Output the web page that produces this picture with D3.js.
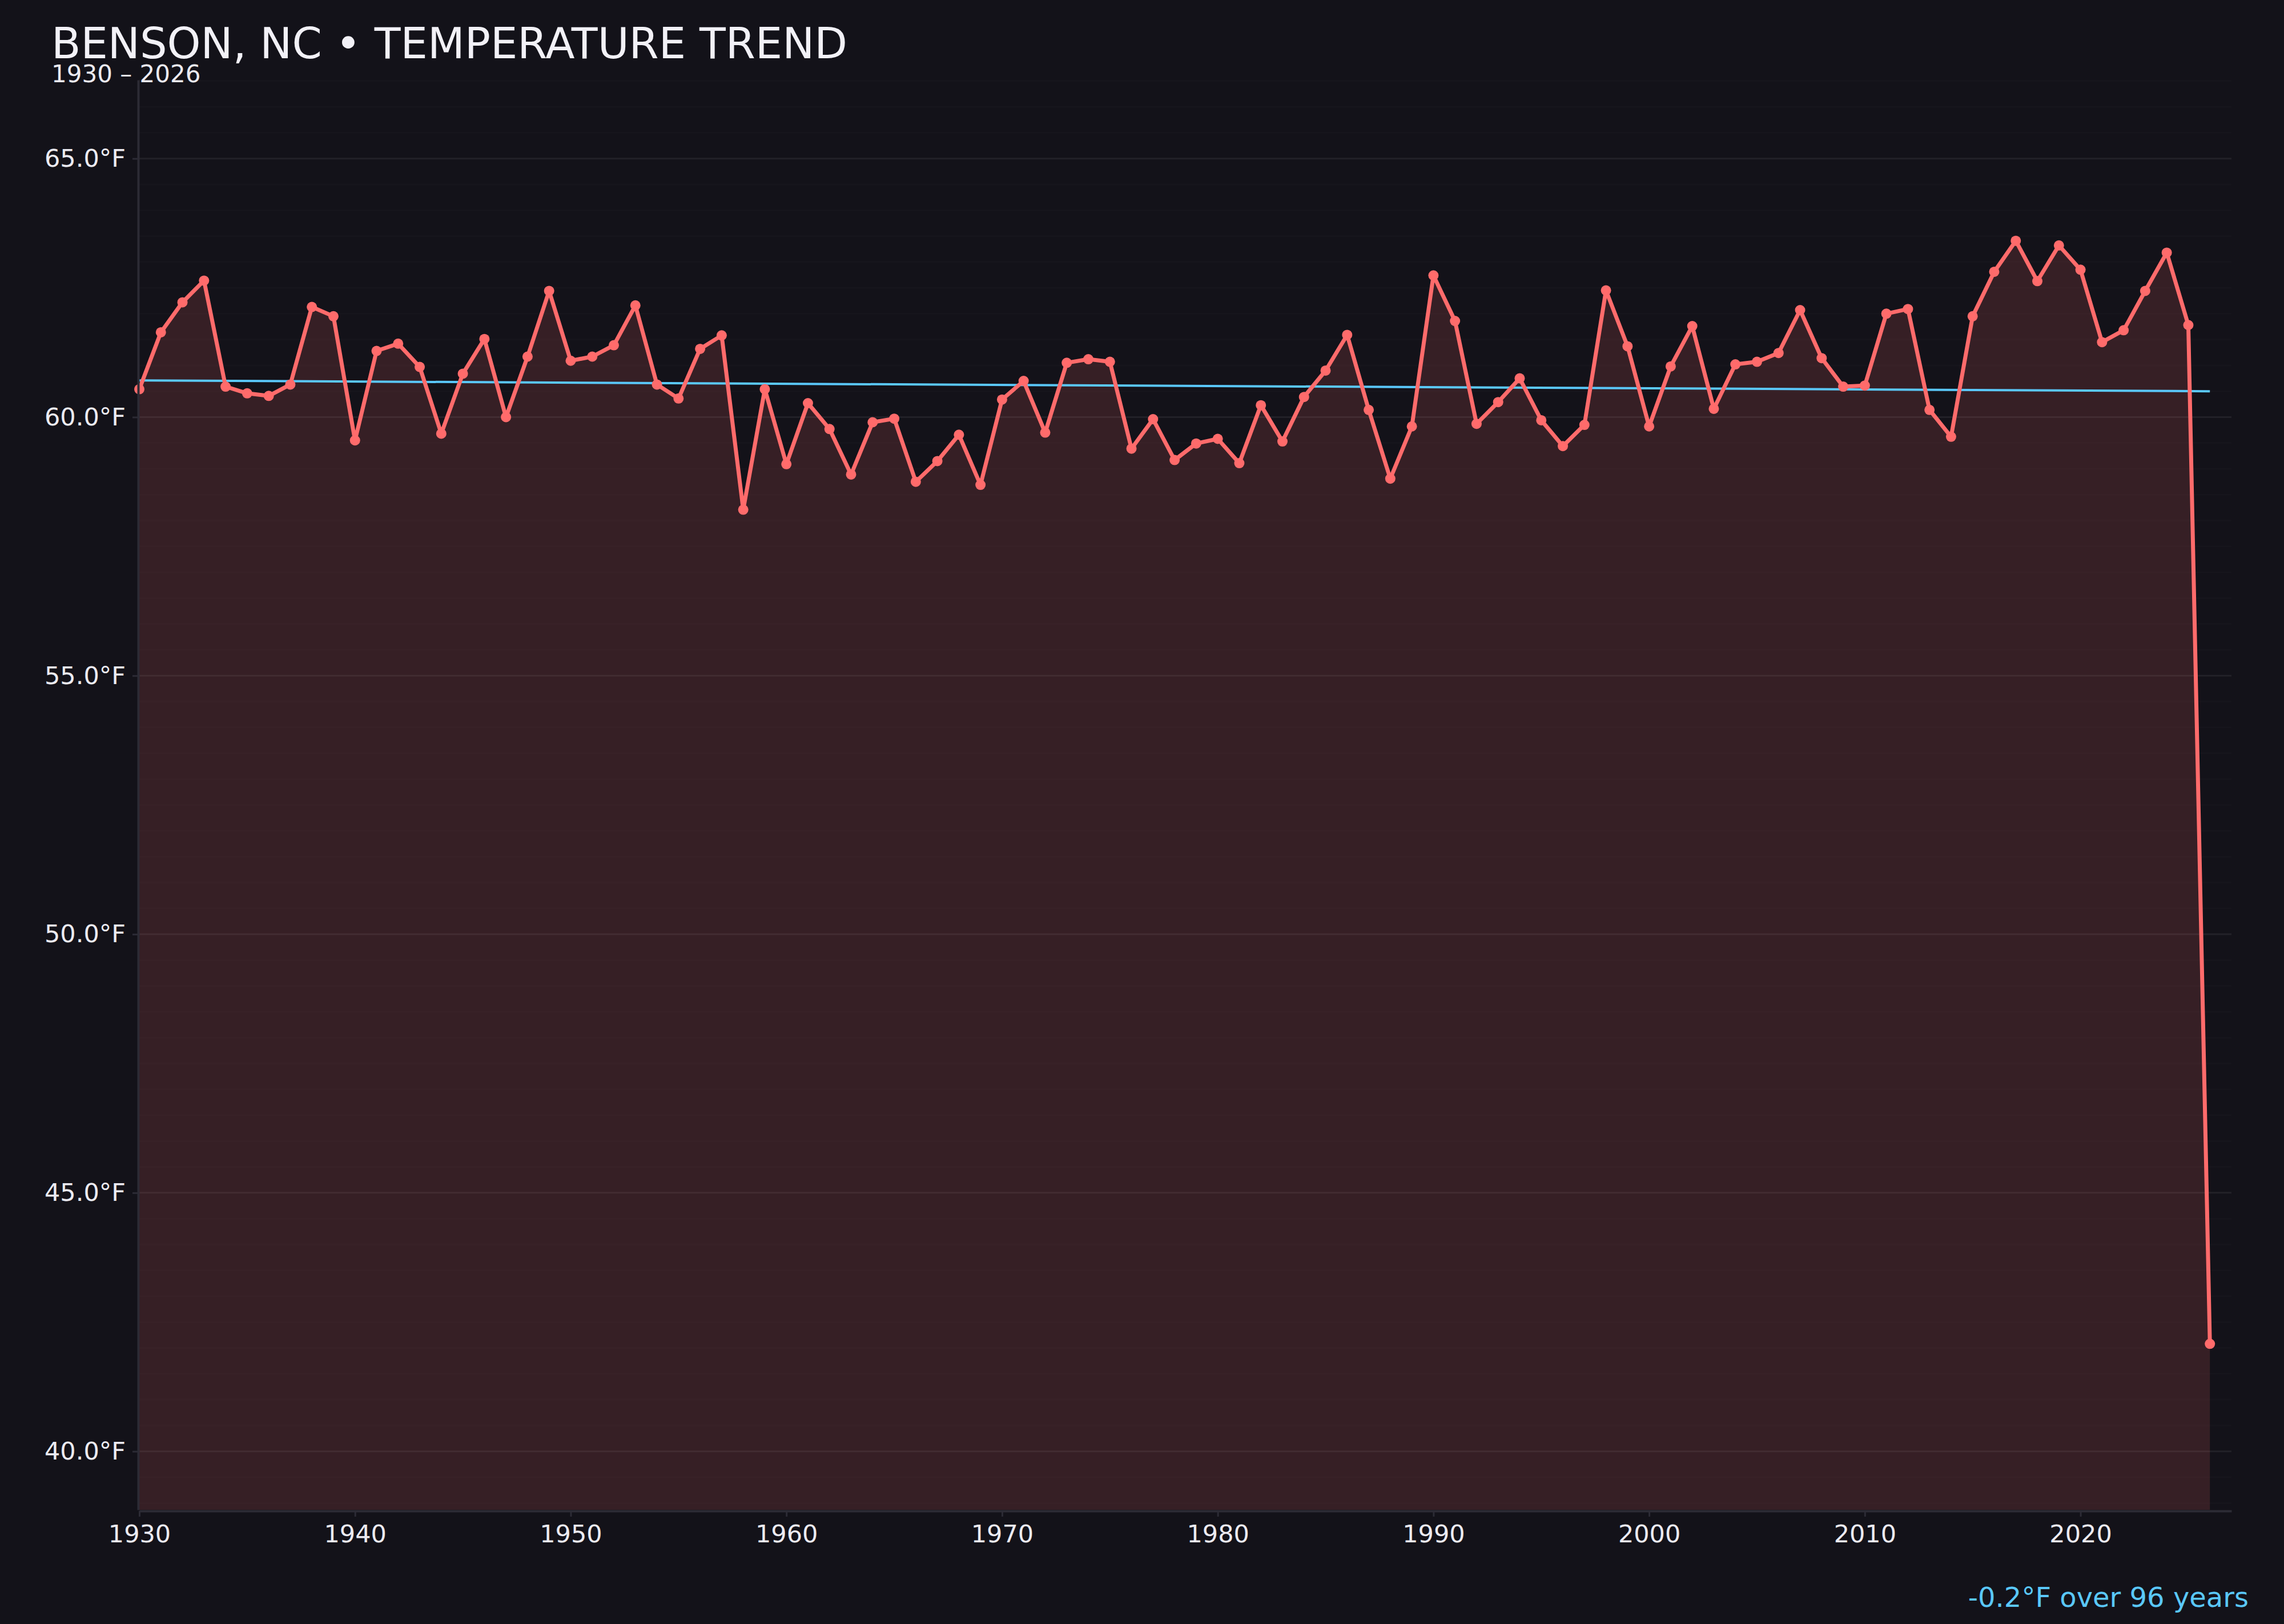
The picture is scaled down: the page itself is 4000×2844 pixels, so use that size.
<!DOCTYPE html>
<html>
<head>
<meta charset="utf-8">
<script src="https://cdn.jsdelivr.net/npm/d3@7"></script>
<style>
  html, body { margin: 0; padding: 0; background: #131219; }
  svg { display: block; font-family: "DejaVu Sans", sans-serif; }
</style>
</head>
<body>
<div id="chart"></div>
<script>
const years = d3.range(1930, 2027);

const temps = [
  60.54, 61.64, 62.22, 62.64, 60.59, 60.46, 60.41, 60.63, 62.13, 61.95,
  59.55, 61.28, 61.42, 60.97, 59.68, 60.84, 61.51, 60.00, 61.17, 62.44,
  61.09, 61.17, 61.39, 62.16, 60.63, 60.36, 61.32, 61.58, 58.21, 60.54,
  59.09, 60.27, 59.77, 58.89, 59.90, 59.97, 58.75, 59.15, 59.66, 58.69,
  60.34, 60.70, 59.70, 61.05, 61.12, 61.07, 59.39, 59.96, 59.17, 59.49,
  59.58, 59.11, 60.23, 59.53, 60.39, 60.90, 61.59, 60.14, 58.81, 59.82,
  62.74, 61.86, 59.87, 60.29, 60.75, 59.94, 59.44, 59.85, 62.45, 61.37,
  59.82, 60.98, 61.76, 60.16, 61.02, 61.07, 61.24, 62.07, 61.14, 60.59,
  60.61, 62.00, 62.09, 60.14, 59.62, 61.95, 62.81, 63.41, 62.63, 63.32,
  62.85, 61.45, 61.68, 62.44, 63.18, 61.78, 42.08
];

// trend line end values
const trendYears = [1930, 2026];
const trendTemps = [60.71, 60.50];

const xTickYears = d3.range(1930, 2021, 10);
const yTickTemps = [40, 45, 50, 55, 60, 65];

const title = "BENSON, NC \u2022 TEMPERATURE TREND";
const subtitle = "1930 \u2013 2026";
const trendLabel = "-0.2\u00b0F over 96 years";

const width = 4000, height = 2844;
const margin = {top: 140, right: 92, bottom: 200, left: 244};
const innerW = width - margin.left - margin.right;
const innerH = height - margin.top - margin.bottom;

const data = years.map((y, i) => ({year: y, temp: temps[i]}));
const trend = trendYears.map((y, i) => ({year: y, temp: trendTemps[i]}));

const x = d3.scaleLinear().domain([1930, 2027]).range([0, innerW]);
const y = d3.scaleLinear().domain([38.87, 66.52]).range([innerH, 0]);

const svg = d3.select("#chart").append("svg")
  .attr("width", width)
  .attr("height", height);

svg.append("rect")
  .attr("width", width)
  .attr("height", height)
  .attr("fill", "#131219");

const g = svg.append("g")
  .attr("transform", `translate(${margin.left},${margin.top})`);

// minor grid every half degree
g.append("g")
  .selectAll("line")
  .data(y.ticks(60))
  .join("line")
  .attr("x1", 0)
  .attr("x2", innerW)
  .attr("y1", d => y(d))
  .attr("y2", d => y(d))
  .attr("stroke", "#ffffff")
  .attr("stroke-opacity", 0.015)
  .attr("stroke-width", 3);

// major grid
g.append("g")
  .selectAll("line")
  .data(yTickTemps)
  .join("line")
  .attr("x1", 0)
  .attr("x2", innerW)
  .attr("y1", d => y(d))
  .attr("y2", d => y(d))
  .attr("stroke", "#ffffff")
  .attr("stroke-opacity", 0.055)
  .attr("stroke-width", 3);

const area = d3.area()
  .x(d => x(d.year))
  .y0(innerH)
  .y1(d => y(d.temp));

g.append("path")
  .datum(data)
  .attr("fill", "#ff6b6b")
  .attr("fill-opacity", 0.15)
  .attr("d", area);

const line = d3.line()
  .x(d => x(d.year))
  .y(d => y(d.temp));

g.append("path")
  .datum(trend)
  .attr("fill", "none")
  .attr("stroke", "#5ac8fa")
  .attr("stroke-width", 4)
  .attr("d", line);

g.append("path")
  .datum(data)
  .attr("fill", "none")
  .attr("stroke", "#ff6b6b")
  .attr("stroke-width", 7)
  .attr("stroke-linejoin", "round")
  .attr("d", line);

g.append("g")
  .selectAll("circle")
  .data(data)
  .join("circle")
  .attr("cx", d => x(d.year))
  .attr("cy", d => y(d.temp))
  .attr("r", 9)
  .attr("fill", "#ff6b6b");

// axes
const xAxis = g.append("g")
  .attr("transform", `translate(0,${innerH + 2})`)
  .call(d3.axisBottom(x).tickValues(xTickYears).tickFormat(d3.format("d"))
    .tickSize(10).tickSizeOuter(0).tickPadding(14));

const yAxis = g.append("g")
  .attr("transform", "translate(-2,0)")
  .call(d3.axisLeft(y).tickValues(yTickTemps).tickFormat(d => d.toFixed(1) + "\u00b0F")
    .tickSize(10).tickSizeOuter(0).tickPadding(12));

[xAxis, yAxis].forEach(a => {
  a.select(".domain").attr("stroke", "#2c2b35").attr("stroke-width", 4);
  a.selectAll(".tick line").attr("stroke", "#2c2b35").attr("stroke-width", 3);
  a.selectAll(".tick text")
    .attr("fill", "#ecebf2")
    .style("font-family", "'DejaVu Sans', sans-serif")
    .style("font-size", "43px");
});

svg.append("text")
  .attr("x", 90)
  .attr("y", 102)
  .attr("fill", "#f2f1f7")
  .style("font-size", "75px")
  .text(title);

svg.append("text")
  .attr("x", 90)
  .attr("y", 144)
  .attr("fill", "#ecebf2")
  .style("font-size", "42px")
  .text(subtitle);

svg.append("text")
  .attr("x", 3938)
  .attr("y", 2814)
  .attr("text-anchor", "end")
  .attr("fill", "#5ac8fa")
  .style("font-size", "48px")
  .text(trendLabel);
</script>
</body>
</html>
